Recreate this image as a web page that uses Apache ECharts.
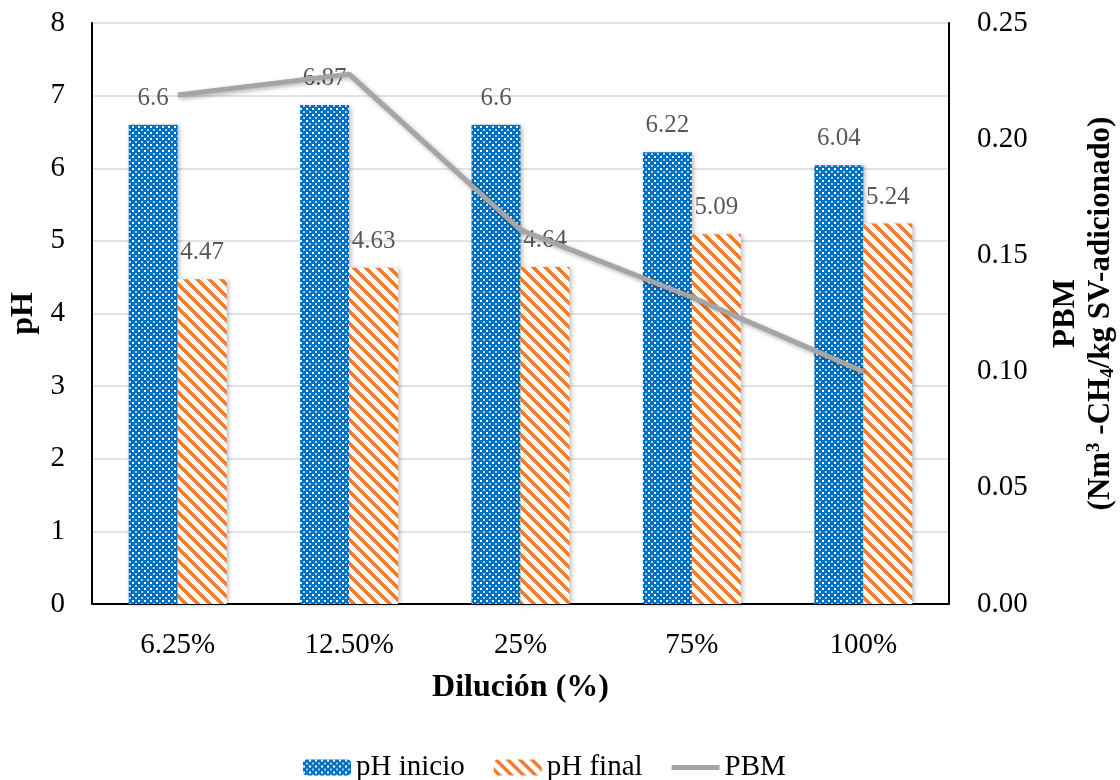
<!DOCTYPE html>
<html>
<head>
<meta charset="utf-8">
<script src="https://cdn.jsdelivr.net/npm/echarts@6/dist/echarts.min.js"></script>
<style>
html,body{margin:0;padding:0;background:#fff;}
#chart{width:1120px;height:780px;}
</style>
</head>
<body>
<div id="chart"></div>
<script>
var categories = ['6.25%', '12.50%', '25%', '75%', '100%'];
var phInicio = [6.6, 6.87, 6.6, 6.22, 6.04];
var phFinal = [4.47, 4.63, 4.64, 5.09, 5.24];
var pbm = [0.219, 0.228, 0.161, 0.132, 0.100];

function bluePattern() {
  var n = 6;
  var c = document.createElement('canvas');
  c.width = n; c.height = n;
  var ctx = c.getContext('2d');
  ctx.fillStyle = '#0070C0';
  ctx.fillRect(0, 0, n, n);
  ctx.fillStyle = '#ffffff';
  ctx.fillRect(0, 0, 2, 2);
  ctx.fillStyle = '#a9cdee';
  ctx.fillRect(3, 3, 2, 2);
  return c;
}
function orangePattern() {
  var n = 12;
  var c = document.createElement('canvas');
  c.width = n; c.height = n;
  var ctx = c.getContext('2d');
  ctx.fillStyle = '#ffffff';
  ctx.fillRect(0, 0, n, n);
  ctx.fillStyle = '#ED7D31';
  for (var y = 0; y < n; y++) {
    for (var x = 0; x < n; x++) {
      if ((((x - y) % n) + n) % n < 5) ctx.fillRect(x, y, 1, 1);
    }
  }
  return c;
}

var FONT = '"Liberation Serif", "Times New Roman", serif';
var chart = echarts.init(document.getElementById('chart'));
var labelStyle = {
  show: true, position: 'top', distance: 14,
  color: '#595959', fontFamily: FONT, fontSize: 25
};
var barShadow = { shadowBlur: 4, shadowColor: 'rgba(0,0,0,0.25)', shadowOffsetX: 2, shadowOffsetY: 1 };
chart.setOption({
  animation: false,
  textStyle: { fontFamily: FONT },
  grid: { left: 92, right: 171, top: 23, bottom: 176, outerBoundsMode: 'none', containLabel: false },
  legend: {
    top: 748, left: 298,
    itemWidth: 48, itemHeight: 16, itemGap: 29,
    textStyle: { fontFamily: FONT, fontSize: 29, color: '#000' },
    data: ['pH inicio', 'pH final', {
      name: 'PBM',
      icon: 'path://M0,0 L48,0 L48,5 L0,5 Z'
    }]
  },
  xAxis: {
    type: 'category', data: categories,
    name: 'Dilución (%)', nameLocation: 'middle', nameGap: 68,
    nameTextStyle: { fontFamily: FONT, fontSize: 32, fontWeight: 'bold', color: '#000' },
    axisLine: { lineStyle: { color: '#000', width: 2 } },
    axisTick: { show: false },
    axisLabel: { color: '#000', fontSize: 29, fontFamily: FONT, margin: 27 }
  },
  yAxis: [{
    type: 'value', min: 0, max: 8, interval: 1,
    name: 'pH', nameLocation: 'middle', nameGap: 50, nameRotate: 90,
    nameTextStyle: { fontFamily: FONT, fontSize: 32, fontWeight: 'bold', color: '#000' },
    axisLine: { show: true, lineStyle: { color: '#000', width: 2 } },
    axisTick: { show: false },
    axisLabel: { color: '#000', fontSize: 29, fontFamily: FONT, margin: 27 },
    splitLine: { lineStyle: { color: '#D9D9D9', width: 1.5 } }
  }, {
    type: 'value', min: 0, max: 0.25, interval: 0.05,
    position: 'right',
    name: '{b|PBM}\n{b|(Nm}{sup|3}{b| -CH}{sub|4}{b|/kg SV-adicionado)}',
    nameLocation: 'middle', nameGap: 99, nameRotate: 90,
    nameTextStyle: {
      fontFamily: FONT, fontSize: 31, fontWeight: 'bold', color: '#000', lineHeight: 35,
      rich: {
        b: { fontFamily: FONT, fontSize: 31, fontWeight: 'bold', color: '#000', lineHeight: 35 },
        sup: { fontFamily: FONT, fontSize: 19, fontWeight: 'bold', color: '#000', lineHeight: 35, verticalAlign: 'top', padding: [2, 0, 0, 0] },
        sub: { fontFamily: FONT, fontSize: 19, fontWeight: 'bold', color: '#000', lineHeight: 35, verticalAlign: 'bottom' }
      }
    },
    axisLine: { show: true, lineStyle: { color: '#000', width: 2 } },
    axisTick: { show: false },
    axisLabel: {
      color: '#000', fontSize: 29, fontFamily: FONT, margin: 28,
      formatter: function (v) { return v.toFixed(2); }
    },
    splitLine: { show: false }
  }],
  series: [{
    name: 'pH inicio', type: 'bar', data: phInicio,
    barWidth: 49, barGap: '0%',
    itemStyle: Object.assign({ color: { image: bluePattern(), repeat: 'repeat' } }, barShadow),
    label: labelStyle
  }, {
    name: 'pH final', type: 'bar', data: phFinal,
    barWidth: 49,
    itemStyle: Object.assign({ color: { image: orangePattern(), repeat: 'repeat' } }, barShadow),
    label: labelStyle
  }, {
    name: 'PBM', type: 'line', yAxisIndex: 1, data: pbm,
    symbol: 'none', z: 5,
    lineStyle: {
      color: '#A5A5A5', width: 5,
      shadowBlur: 4, shadowColor: 'rgba(0,0,0,0.3)', shadowOffsetX: 2, shadowOffsetY: 2
    },
    itemStyle: { color: '#A5A5A5' }
  }]
});
</script>
</body>
</html>
